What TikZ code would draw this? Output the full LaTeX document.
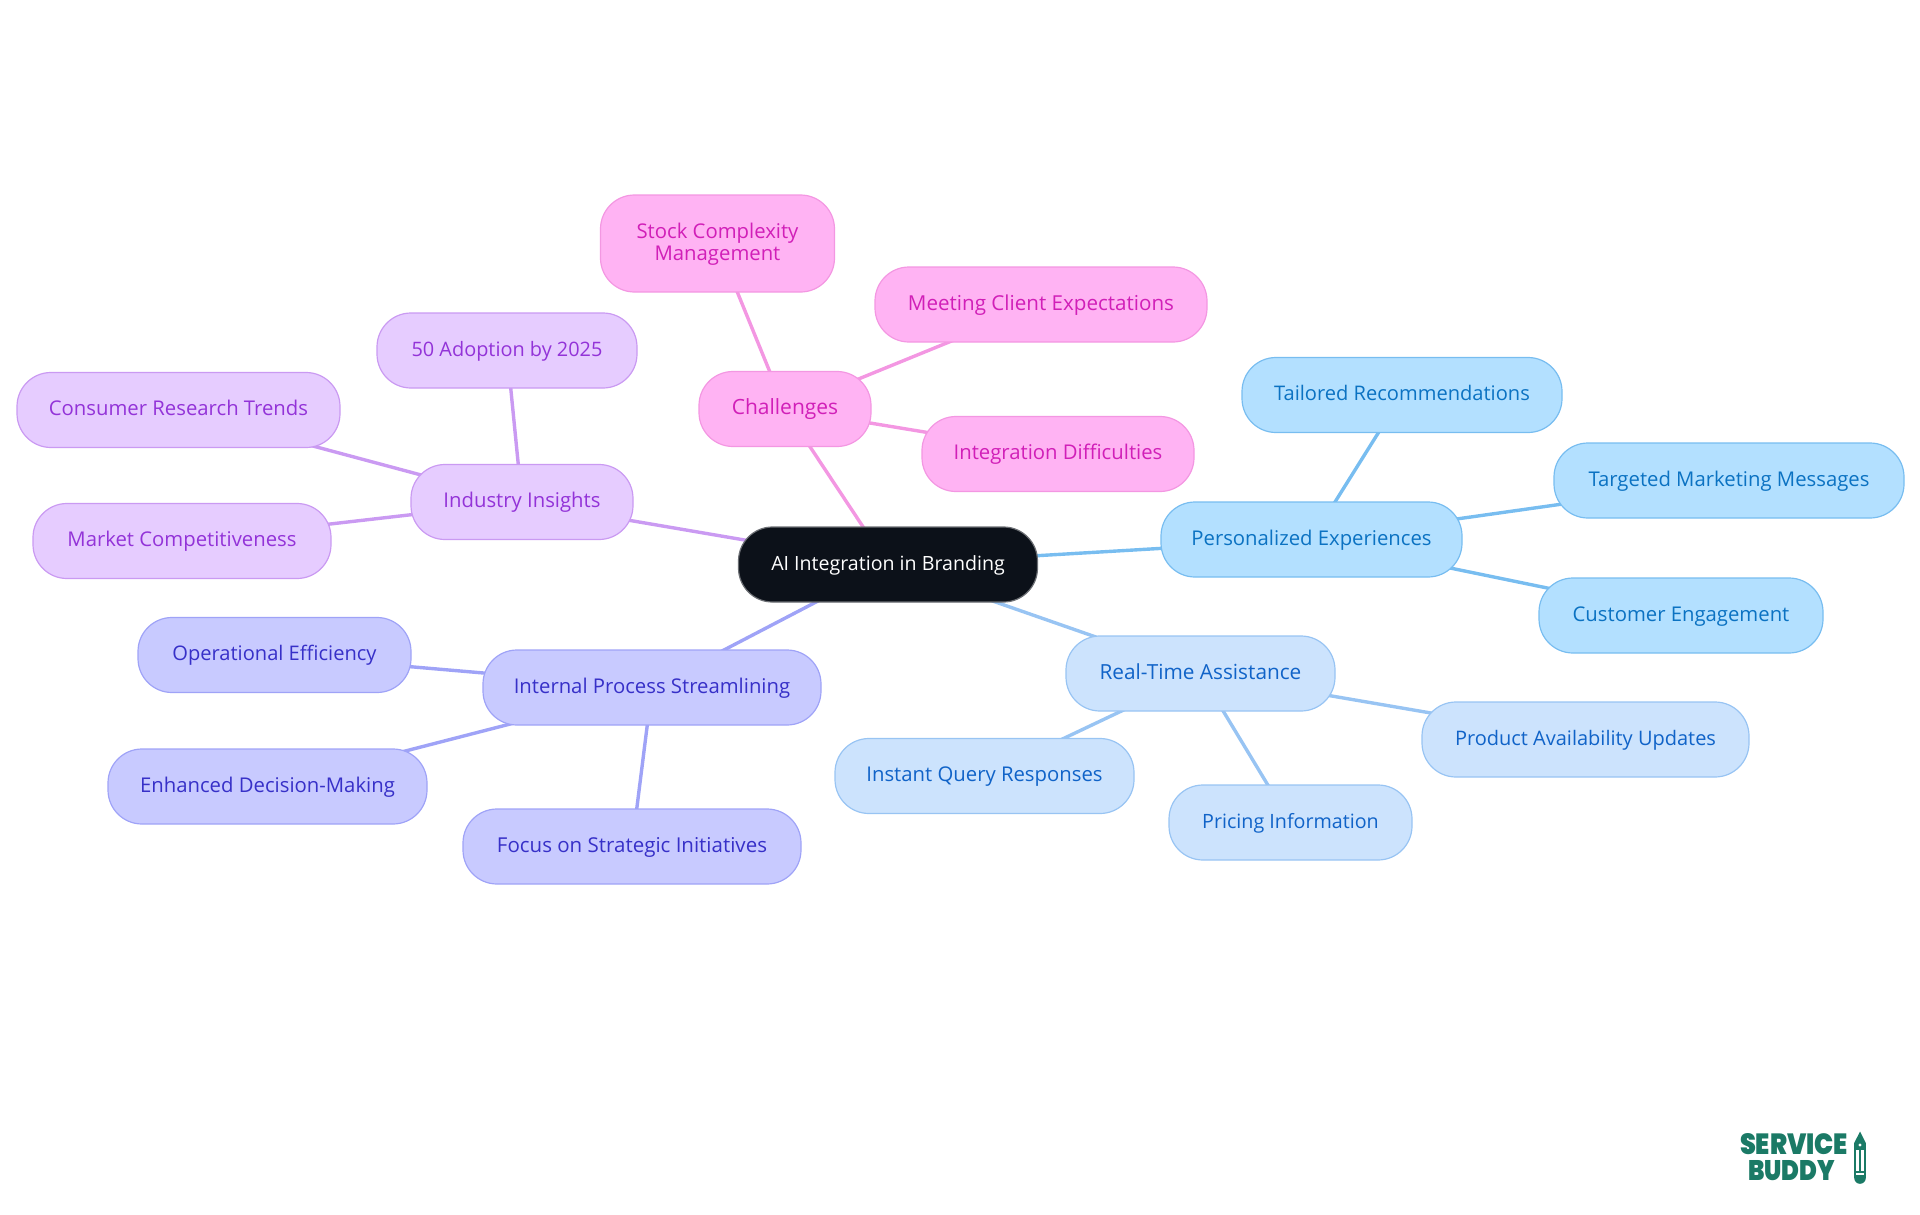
\documentclass[tikz,border=0pt]{standalone}
\usepackage{fontspec}
\setmainfont{Open Sans}
\newfontfamily\logofont{Poppins}[UprightFont={* Black}]
\pgfdeclarelayer{edges}
\pgfsetlayers{edges,main}
\definecolor{bluef}{HTML}{B3E0FF}\definecolor{blues}{HTML}{78BDF0}\definecolor{bluet}{HTML}{0B72C2}
\definecolor{skyf}{HTML}{CCE3FD}\definecolor{skys}{HTML}{98C4F3}\definecolor{skyt}{HTML}{1063C8}
\definecolor{indf}{HTML}{C8CAFF}\definecolor{inds}{HTML}{9FA3F7}\definecolor{indt}{HTML}{3730C8}
\definecolor{purf}{HTML}{E6CCFF}\definecolor{purs}{HTML}{CA9AF2}\definecolor{purt}{HTML}{9333D8}
\definecolor{pinf}{HTML}{FFB3F3}\definecolor{pins}{HTML}{F397E2}\definecolor{pint}{HTML}{D11FB8}
\definecolor{rootf}{HTML}{0C1119}\definecolor{roots}{HTML}{6B6E73}
\definecolor{logoc}{HTML}{1B7A66}
\tikzset{
  fs/.style={font=\fontsize{#1}{22}\selectfont},
  pill/.style={rectangle,rounded corners=34pt,line width=1.2pt,inner sep=0pt,align=center,fs=20.3},
  pblue/.style={pill,fill=bluef,draw=blues,text=bluet},
  psky/.style={pill,fill=skyf,draw=skys,text=skyt},
  pind/.style={pill,fill=indf,draw=inds,text=indt},
  ppur/.style={pill,fill=purf,draw=purs,text=purt},
  ppin/.style={pill,fill=pinf,draw=pins,text=pint},
  proot/.style={pill,fill=rootf,draw=roots,text=white},
  fixline/.style={text height=15.6pt,text depth=3.8pt},
  link/.style={line width=3.4pt},
  logotext/.style={inner sep=0pt,text=logoc}
}
\newcommand{\mnode}[7]{\node[#6,fixline,minimum width=#4pt,minimum height=#5pt] (#1) at (#2,#3) {#7};}
\begin{document}
\begin{tikzpicture}[x=1pt,y=-1pt]
\useasboundingbox (0,0) rectangle (1920,1215);
\mnode{root}{888}{564.5}{299}{75}{proot,fs=19.6}{AI Integration in Branding}
\mnode{pers}{1311.5}{539.5}{301}{75}{pblue}{Personalized Experiences}
\mnode{tail}{1402}{395}{320}{75}{pblue,fs=20.1}{Tailored Recommendations}
\mnode{targ}{1729}{480.5}{350}{75}{pblue}{Targeted Marketing Messages}
\mnode{cust}{1681}{615.5}{284}{75}{pblue}{Customer Engagement}
\mnode{real}{1200.5}{673.5}{269}{75}{psky,fs=20.8}{Real-Time Assistance}
\mnode{prod}{1585.5}{739.5}{327}{75}{psky,fs=20}{Product Availability Updates}
\mnode{pric}{1290.5}{822.5}{243}{75}{psky,fs=19.7}{Pricing Information}
\mnode{inst}{984.5}{776}{299}{75}{psky}{Instant Query Responses}
\mnode{intl}{652}{687.5}{338}{75}{pind}{Internal Process Streamlining}
\mnode{oper}{274.5}{655}{273}{75}{pind,fs=20.1}{Operational Efficiency}
\mnode{enha}{267.5}{786.5}{319}{75}{pind}{Enhanced Decision-Making}
\mnode{focu}{632}{846.5}{338}{75}{pind,fs=20.5}{Focus on Strategic Initiatives}
\mnode{indu}{522}{502}{222}{75}{ppur}{Industry Insights}
\mnode{adop}{507}{350.5}{260}{75}{ppur,fs=19.9}{50 Adoption by 2025}
\mnode{cons}{178.5}{410}{323}{75}{ppur}{Consumer Research Trends}
\mnode{mark}{182}{541}{298}{75}{ppur}{Market Competitiveness}
\mnode{chal}{785}{409}{172}{75}{ppin,fs=21}{Challenges}
\node[ppin,minimum width=234pt,minimum height=97pt,text height=38pt,text depth=5pt] (stoc) at (717.5,243.5) {Stock Complexity\\Management};
\mnode{meet}{1041}{304.5}{332}{75}{ppin,fs=20.6}{Meeting Client Expectations}
\mnode{inte}{1058}{454}{272}{75}{ppin}{Integration Difficulties}
\begin{pgfonlayer}{edges}
\draw[link,blues] (root.center) -- (pers.center);
\draw[link,blues] (pers.center) -- (tail.center);
\draw[link,blues] (pers.center) -- (targ.center);
\draw[link,blues] (pers.center) -- (cust.center);
\draw[link,skys] (root.center) -- (real.center);
\draw[link,skys] (real.center) -- (prod.center);
\draw[link,skys] (real.center) -- (pric.center);
\draw[link,skys] (real.center) -- (inst.center);
\draw[link,inds] (root.center) -- (intl.center);
\draw[link,inds] (intl.center) -- (oper.center);
\draw[link,inds] (intl.center) -- (enha.center);
\draw[link,inds] (intl.center) -- (focu.center);
\draw[link,purs] (root.center) -- (indu.center);
\draw[link,purs] (indu.center) -- (adop.center);
\draw[link,purs] (indu.center) -- (cons.center);
\draw[link,purs] (indu.center) -- (mark.center);
\draw[link,pins] (root.center) -- (chal.center);
\draw[link,pins] (chal.center) -- (stoc.center);
\draw[link,pins] (chal.center) -- (meet.center);
\draw[link,pins] (chal.center) -- (inte.center);
\end{pgfonlayer}
% logo
\node[logotext] (logoa) at (1794,1144.5) {\resizebox{108pt}{21pt}{\logofont SERVICE}};
\node[logotext] (logob) at (1791.5,1171) {\resizebox{87pt}{20pt}{\logofont BUDDY}};
% pencil
\fill[logoc] (1860,1131.5) -- (1865.8,1143) -- (1865.8,1178) arc[start angle=0,end angle=180,radius=5.8] -- (1854.2,1143) -- cycle;
\fill[white] (1860,1145) circle (1.7pt);
\fill[white] (1856.2,1150) rectangle (1858.6,1170.5);
\fill[white] (1861.4,1150) rectangle (1863.8,1170.5);
\fill[white] (1856.2,1172.8) rectangle (1863.8,1174.6);
\end{tikzpicture}
\end{document}
